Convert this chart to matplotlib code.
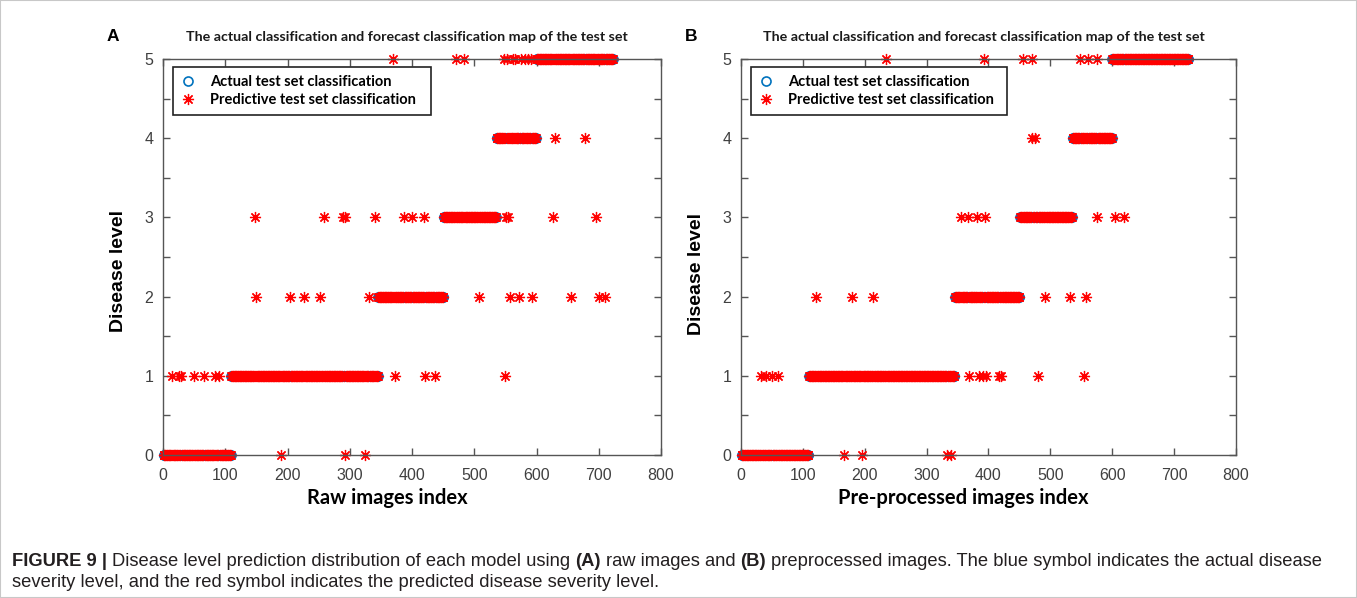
import matplotlib

matplotlib.use("Agg")
import matplotlib.pyplot as plt
import numpy as np
from matplotlib.patches import Rectangle

# actual class of the test set: first sample index of levels 0..5, last index
level_starts = [1, 110, 346, 451, 536, 600]
last_index = 723

# wrong predictions, one list of sample indices per predicted level 0..5
raw_wrong = [
    [190, 292, 325],
    [14, 26, 29, 50, 66, 84, 90, 372, 421, 437, 549],
    [150, 204, 227, 252, 331, 508, 558, 572, 592, 655, 700, 710],
    [148, 259, 289, 293, 340, 387, 400, 419, 551, 555, 627, 695],
    [629, 678],
    [370, 470, 484, 548, 553, 562, 566, 575, 581, 587, 591],
]
pre_wrong = [
    [167, 196, 333, 340],
    [33, 41, 50, 59, 368, 385, 391, 396, 417, 420, 480, 554],
    [121, 180, 213, 235, 492, 531, 558],
    [356, 367, 382, 395, 576, 605, 619],
    [471, 475],
    [235, 393, 456, 470, 548, 561, 575],
]

title = "The actual classification and forecast classification map of the test set"
legend_labels = ["Actual test set classification", "Predictive test set classification"]

index = np.arange(1, last_index + 1)
actual = np.searchsorted(level_starts, index, side="right") - 1

W, H = 1357, 598
fig = plt.figure(figsize=(W / 100, H / 100), dpi=100)
fig.patch.set_facecolor("white")

TICK_FONT = "Liberation Sans"
HUMANIST = "Lato"


def draw(ax, wrong, letter, xlabel, xlab_x, ylab_y):
    pred = actual.copy()
    for level, ids in enumerate(wrong):
        pred[np.array(ids) - 1] = level

    ax.plot(index, actual, ls="none", marker="o", mfc="none", mec="#0072BD",
            ms=6.5, mew=1.2, clip_on=False, label=legend_labels[0])
    ax.plot(index, pred, ls="none", marker=(8, 2, 0), color="red",
            ms=8, mew=0.9, clip_on=False, label=legend_labels[1])

    ax.set_xlim(0, 800)
    ax.set_ylim(0, 5)
    ax.set_xticks(range(0, 801, 100))
    ax.set_yticks(range(6))
    ax.set_yticks(np.arange(0.5, 5, 1), minor=True)
    ax.tick_params(which="both", direction="in", top=True, right=True,
                   color="#555555", length=5, width=1)
    ax.tick_params(labelsize=11.5, labelcolor="#404040")
    ax.tick_params(axis="x", pad=9.5)
    ax.tick_params(axis="y", pad=7)
    for lab in ax.get_xticklabels() + ax.get_yticklabels():
        lab.set_fontfamily(TICK_FONT)
    for sp in ax.spines.values():
        sp.set_color("#555555")
        sp.set_linewidth(1)

    ax.set_xlabel(xlabel, fontfamily=HUMANIST, fontweight="bold", fontsize=14.5)
    ax.xaxis.set_label_coords(xlab_x, -0.1075)
    ax.xaxis.label.set_verticalalignment("center")
    ax.set_ylabel("Disease level", fontfamily=TICK_FONT, fontweight="bold", fontsize=14)
    ax.yaxis.set_label_coords(-0.09, ylab_y)
    ax.yaxis.label.set_verticalalignment("center")

    ax.text(0.49, 1.0556, title, transform=ax.transAxes, ha="center", va="center",
            fontfamily=HUMANIST, fontweight="bold", fontsize=10.3, color="#1a1a1a")
    ax.text(-0.1, 1.0556, letter, transform=ax.transAxes, ha="center", va="center",
            fontfamily=TICK_FONT, fontweight="bold", fontsize=12.5)

    leg = ax.legend(loc="upper left", bbox_to_anchor=(0.02, 0.856, 0.518, 0.124),
                    mode="expand", borderaxespad=0, frameon=True, fancybox=False,
                    edgecolor="#222222", framealpha=1,
                    prop=dict(family=HUMANIST, weight="bold", size=10.5),
                    handlelength=1.0, handletextpad=1.0, borderpad=0.55,
                    labelspacing=0.3)
    leg.get_frame().set_linewidth(1.2)


axA = fig.add_axes([163 / W, 1 - 455 / H, 498 / W, 396 / H])
axB = fig.add_axes([741 / W, 1 - 455 / H, 495 / W, 396 / H])
draw(axA, raw_wrong, "A", "Raw images index", 0.45, 0.465)
draw(axB, pre_wrong, "B", "Pre-processed images index", 0.448, 0.457)

# caption under the panels
cap = fig.add_axes([0, 0, 1, 1], zorder=-1)
cap.axis("off")
cap_style = dict(fontfamily=TICK_FONT, fontsize=13.2, color="#231f20")
space = 3.6
line1 = [
    ("FIGURE 9 |", True, 0),
    ("Disease level prediction distribution of each model using", False, space),
    ("(A)", True, space),
    ("raw images and", False, space),
    ("(B)", True, space),
    ("preprocessed images. The blue symbol indicates the actual disease", False, space),
]
line2 = [("severity level, and the red symbol indicates the predicted disease severity level.", False, 0)]

for y, parts in [(1 - 570 / H, line1), (1 - 591 / H, line2)]:
    t = None
    for s, bold, gap in parts:
        w = "bold" if bold else "normal"
        if t is None:
            t = cap.text(12 / W, y, s, transform=cap.transAxes, va="bottom", ha="left",
                         fontweight=w, **cap_style)
        else:
            t = cap.annotate(s, xy=(1, 0), xycoords=t, xytext=(gap, 0),
                             textcoords="offset points", va="bottom", ha="left",
                             fontweight=w, **cap_style)

fig.add_artist(Rectangle((0, 0), 1, 1, transform=fig.transFigure, fill=False,
                         edgecolor="#c8c8c8", linewidth=1.5))

fig.savefig("out.png", dpi=100)
